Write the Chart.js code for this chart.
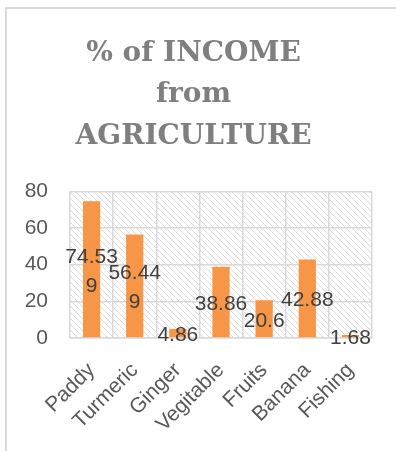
<!DOCTYPE html>
<html>
<head>
<meta charset="utf-8">
<script src="https://cdn.jsdelivr.net/npm/chart.js@4.4.0/dist/chart.umd.min.js"></script>
<style>
	html, body { margin: 0; padding: 0; background: #fff; }
	#frame {
		position: absolute; left: 5px; top: 7px; width: 400px; height: 450px;
		border-left: 2px solid #d9d9d9; border-top: 2px solid #d9d9d9;
	}
	#chart-container { position: absolute; left: 0px; top: 0px; width: 373px; height: 442px; }
</style>
</head>
<body>
<div id="frame">
	<div id="chart-container"><canvas id="bargraph"></canvas></div>
</div>
<script>
var crops = ["Paddy", "Turmeric", "Ginger", "Vegitable", "Fruits", "Banana", "Fishing"];
var income = [74.539, 56.449, 4.86, 38.86, 20.6, 42.88, 1.68];
var yTicks = [0, 20, 40, 60, 80];
var chartTitle = ["% of INCOME", "from", "AGRICULTURE"];

// diagonal hatch behind the plot, like the office fill
function hatch() {
	var c = document.createElement("canvas");
	c.width = 6; c.height = 6;
	var g = c.getContext("2d");
	g.strokeStyle = "#dcdcdc";
	g.lineWidth = 1;
	g.beginPath();
	g.moveTo(-1, -1); g.lineTo(7, 7);
	g.moveTo(-1, 5); g.lineTo(1, 7);
	g.moveTo(5, -1); g.lineTo(7, 1);
	g.stroke();
	return g.createPattern(c, "repeat");
}

var plotBack = {
	id: "plotBack",
	beforeDraw: function(chart) {
		var a = chart.chartArea, ctx = chart.ctx;
		ctx.save();
		ctx.fillStyle = hatch();
		ctx.fillRect(a.left, a.top, a.right - a.left, a.bottom - a.top);
		ctx.restore();
	}
};

// value labels in the middle of each bar, wrapped every 5 chars
var barLabels = {
	id: "barLabels",
	afterDatasetsDraw: function(chart) {
		var ctx = chart.ctx;
		var meta = chart.getDatasetMeta(0);
		ctx.save();
		ctx.font = "21px 'Liberation Sans'";
		ctx.fillStyle = "#404040";
		ctx.textAlign = "center";
		ctx.textBaseline = "middle";
		meta.data.forEach(function(bar, i) {
			var txt = String(chart.data.datasets[0].data[i]);
			var lines = [];
			for (var k = 0; k < txt.length; k += 5) lines.push(txt.slice(k, k + 5));
			var mid = (bar.y + bar.base) / 2;
			var lh = 29;
			var y0 = mid - (lines.length - 1) * lh / 2 + 2;
			lines.forEach(function(l, j) {
				ctx.fillText(l, bar.x, y0 + j * lh);
			});
		});
		ctx.restore();
	}
};

var ctx = document.getElementById("bargraph");

var chartdata = {
	labels: crops,
	datasets: [
		{
			label: "% of income",
			backgroundColor: "#f79646",
			data: income,
			categoryPercentage: 0.4,
			barPercentage: 1
		}
	]
};

var options = {
	responsive: true,
	maintainAspectRatio: false,
	animation: false,
	layout: { padding: 0 },
	plugins: {
		legend: { display: false },
		tooltip: { enabled: false },
		title: {
			display: true,
			text: chartTitle,
			color: "#7f7f7f",
			font: { family: "'DejaVu Serif'", size: 28, weight: "bold", lineHeight: 1.48 },
			padding: { top: 24, bottom: 34 }
		}
	},
	scales: {
		y: {
			min: 0,
			max: 80,
			afterFit: function(s) { s.width = 63; s.paddingTop = 0; s.paddingBottom = 0; },
			afterBuildTicks: function(s) { s.ticks = yTicks.map(function(v) { return { value: v }; }); },
			border: { display: false },
			grid: { color: "#d9d9d9", lineWidth: 1.5, drawTicks: false },
			ticks: { color: "#595959", padding: 22, font: { family: "'Liberation Sans'", size: 21 } }
		},
		x: {
			afterFit: function(s) { s.height = 113; s.paddingLeft = 0; s.paddingRight = 8; },
			border: { color: "#d9d9d9", width: 1.5 },
			grid: { color: "#d9d9d9", lineWidth: 1.5, drawTicks: false },
			ticks: {
				color: "#595959", padding: 20, minRotation: 45, maxRotation: 45,
				font: { family: "'Liberation Sans'", size: 21 }
			}
		}
	}
};

var barGraph = new Chart(ctx, {
	type: "bar",
	data: chartdata,
	options: options,
	plugins: [plotBack, barLabels]
});
</script>
</body>
</html>
